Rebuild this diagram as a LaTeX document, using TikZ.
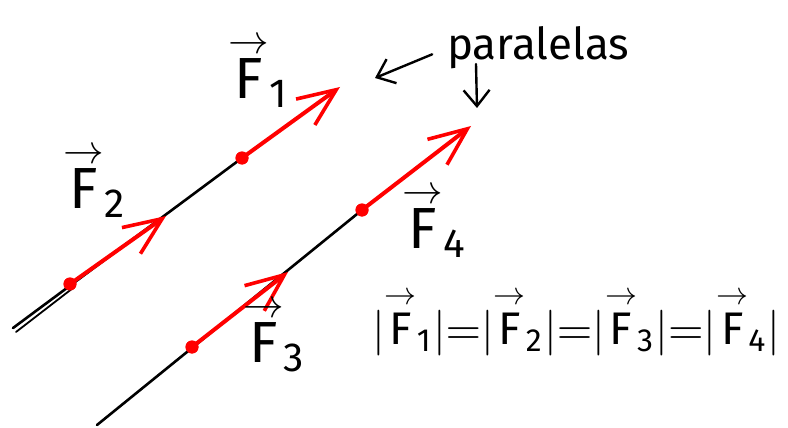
\documentclass[tikz,border=0pt]{standalone}
\usepackage{amsmath}
\usepackage{fontspec}
\setmainfont{Fira Sans}
\DeclareFontShape{OMS}{cmsy}{m}{n}{<->cmsy10}{}
\DeclareFontShape{OML}{cmm}{m}{it}{<->cmmi10}{}
\DeclareFontFamily{OT1}{cmr}{}
\DeclareFontShape{OT1}{cmr}{m}{n}{<->cmr10}{}
\usetikzlibrary{arrows.meta}
\newcommand{\vF}[1]{\overset{\rightarrow}{\mathrm{F}}_{\mathrm{#1}}}
\begin{document}
\begin{tikzpicture}[x=1pt,y=-1pt,
  blackline/.style={line width=2.6pt, black, line cap=round},
  force/.style={line width=4pt, red, line cap=round,
    -{Straight Barb[length=38pt,width=32pt,line width=3.6pt]}},
  rdot/.style={circle, fill=red, inner sep=0pt, minimum size=13pt},
  lbl/.style={font=\fontsize{58}{64}\selectfont, inner sep=0pt},
  note/.style={line width=2.4pt, black, line cap=round,
    -{Straight Barb[length=16pt,width=26pt,line width=2.4pt]}}
]
\useasboundingbox (0,0) rectangle (788,428);
% points on the lines
\coordinate (a1) at (13,328);
\coordinate (b1) at (16,332);
\coordinate (b2) at (73,288);
\coordinate (a2) at (97,425);
\node[rdot] (d1) at (242,158) {};
\node[rdot] (d2) at (70,284) {};
\node[rdot] (d3) at (192,347) {};
\node[rdot] (d4) at (362,210) {};
\coordinate (t1) at (340,87);
\coordinate (t2) at (166,216);
\coordinate (t3) at (288,272);
\coordinate (t4) at (471,126);
% black lines
\draw[blackline] (a1) -- (d1.center);
\draw[black, line width=1.8pt, line cap=round] (b1) -- (b2);
\draw[blackline] (a2) -- (d4.center);
% red dots and forces
\foreach \d in {d1,d2,d3,d4} \node[rdot] at (\d) {};
\draw[force] (d1.center) -- (t1);
\draw[force] (d2.center) -- (t2);
\draw[force] (d3.center) -- (t3);
\draw[force] (d4.center) -- (t4);
% labels
\node[lbl] (l1) at (258,72) {$\vF{1}$};
\node[lbl] (l2) at (94,182) {$\vF{2}$};
\node[lbl] (l3) at (274,336) {$\vF{3}$};
\node[lbl] (l4) at (434,222) {$\vF{4}$};
% paralelas
\node[font=\fontsize{44}{50}\selectfont, inner sep=0pt, anchor=base west] (par) at (447,60) {paralelas};
\coordinate (pl) at (375,78);
\coordinate (ps) at (476,64);
\coordinate (pd) at (477,108);
\draw[note, shorten <=16pt] (par.west) -- (pl);
\draw[note] (ps) -- (pd);
% equation
\node[inner sep=0pt, anchor=west] (eq) at (372,322)
  {\resizebox{408pt}{!}{$\lvert\vF{1}\rvert{=}\lvert\vF{2}\rvert{=}\lvert\vF{3}\rvert{=}\lvert\vF{4}\rvert$}};
\end{tikzpicture}
\end{document}
